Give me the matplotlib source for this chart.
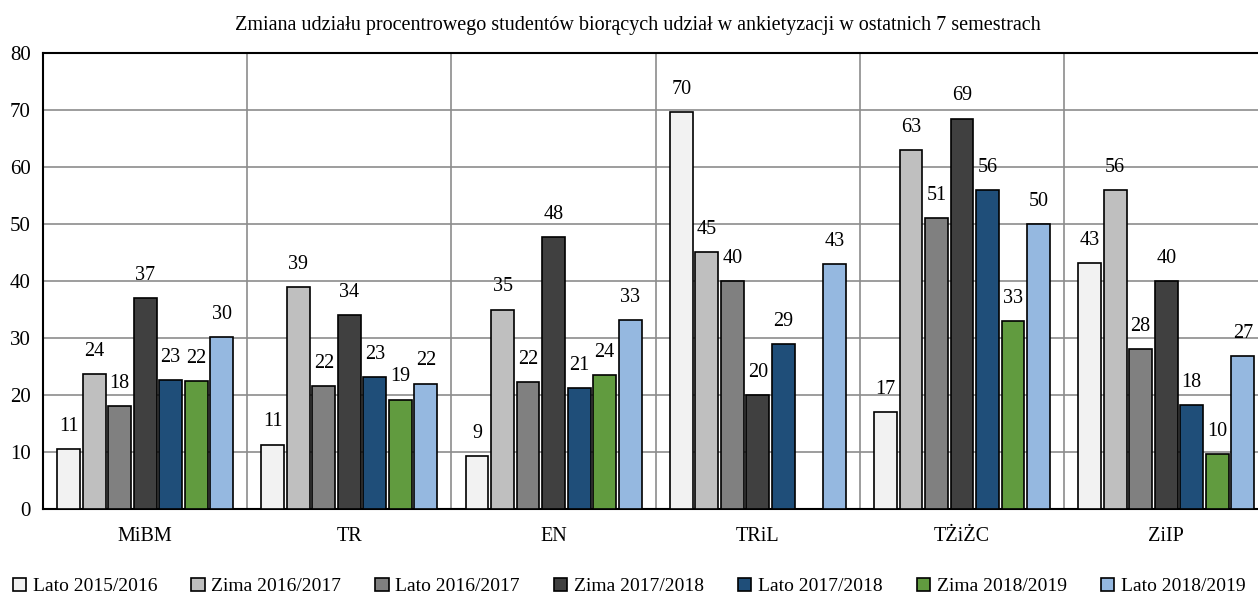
import matplotlib.pyplot as plt
import numpy as np

# dane
kierunki = ["MiBM", "TR", "EN", "TRiL", "TŻiŻC", "ZiIP"]
semestry = ["Lato 2015/2016", "Zima 2016/2017", "Lato 2016/2017", "Zima 2017/2018",
            "Lato 2017/2018", "Zima 2018/2019", "Lato 2018/2019"]

lato_2015_16 = [10.5, 11.3, 9.3, 69.7, 17.0, 43.2]
zima_2016_17 = [23.7, 38.9, 35.0, 45.1, 63.0, 56.0]
lato_2016_17 = [18.1, 21.6, 22.3, 40.0, 51.0, 28.0]
zima_2017_18 = [37.0, 34.0, 47.7, 20.0, 68.5, 40.0]
lato_2017_18 = [22.7, 23.1, 21.2, 28.9, 56.0, 18.3]
zima_2018_19 = [22.4, 19.2, 23.5, np.nan, 33.0, 9.6]
lato_2018_19 = [30.2, 22.0, 33.1, 43.0, 50.0, 26.8]

# etykiety nad słupkami
etykiety = [
    [11, 11, 9, 70, 17, 43],
    [24, 39, 35, 45, 63, 56],
    [18, 22, 22, 40, 51, 28],
    [37, 34, 48, 20, 69, 40],
    [23, 23, 21, 29, 56, 18],
    [22, 19, 24, None, 33, 10],
    [30, 22, 33, 43, 50, 27],
]

kolory = ["#F2F2F2", "#BFBFBF", "#808080", "#404040", "#1F4E79", "#619B3F", "#95B8E0"]

serie = [lato_2015_16, zima_2016_17, lato_2016_17, zima_2017_18,
         lato_2017_18, zima_2018_19, lato_2018_19]

plt.rcParams['font.family'] = ['Liberation Serif', 'DejaVu Serif']

fig = plt.figure(figsize=(12.58, 5.96), dpi=100)
ax = fig.add_axes([0.0342, 0.146, 0.974, 0.765])

x = np.arange(len(kierunki))
krok = 0.125
szer = 0.112

for i, (s, kol) in enumerate(zip(serie, kolory)):
    pos = x + (i - 3) * krok
    ax.bar(pos, s, width=szer, color=kol, edgecolor="black", linewidth=1.2,
           label=semestry[i], zorder=3)
    for p, v, e in zip(pos, s, etykiety[i]):
        if e is None:
            continue
        ax.text(p, v + 2.3, str(e), ha="center", va="bottom", fontsize=14.5, zorder=4)

ax.set_xlim(-0.5, 5.5)
ax.set_ylim(0, 80)
ax.set_yticks(np.arange(0, 81, 10))
ax.set_xticks(x)
ax.set_xticklabels(kierunki, fontsize=14.5)
ax.tick_params(axis="both", length=0, labelsize=15)
ax.tick_params(axis="x", pad=13, labelsize=14.5)
ax.tick_params(axis="y", pad=9)

ax.grid(axis="y", color="#8C8C8C", linewidth=1.2, zorder=0)
for g in np.arange(0.5, 5.5, 1):
    ax.axvline(g, color="#8C8C8C", linewidth=1.2, zorder=0)

for s in ["left", "bottom", "top"]:
    ax.spines[s].set_color("black")
    ax.spines[s].set_linewidth(1.5)
ax.spines["right"].set_visible(False)

fig.text(0.507, 0.958, "Zmiana udziału procentrowego studentów biorących udział w ankietyzacji w ostatnich 7 semestrach",
         ha="center", va="center", fontsize=14.5)

fig.legend(loc="lower left", bbox_to_anchor=(0.004, -0.012), ncol=7, frameon=False,
           fontsize=14, handlelength=0.68, handleheight=0.68, handletextpad=0.35,
           columnspacing=1.75, borderaxespad=0.0)

fig.savefig("out.png", dpi=100)
